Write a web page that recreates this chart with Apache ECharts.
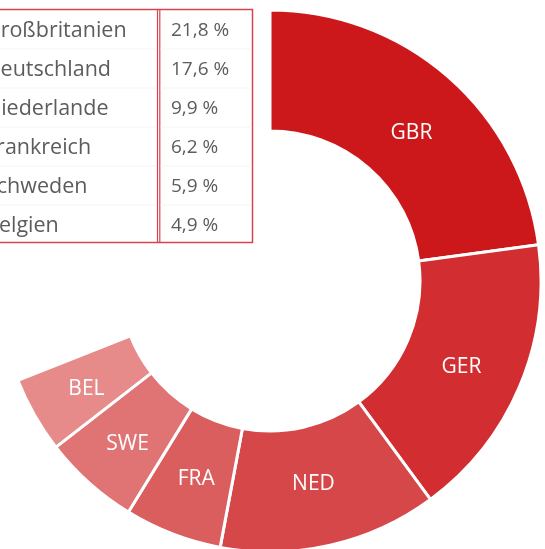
<!DOCTYPE html>
<html>
<head>
<meta charset="utf-8">
<script src="https://cdn.jsdelivr.net/npm/echarts@6/dist/echarts.min.js"></script>
<style>
  html, body { margin: 0; padding: 0; background: #fff; }
  #chart { width: 545px; height: 549px; }
</style>
</head>
<body>
<div id="chart"></div>
<script>
// country data
const countryNames = ['Großbritanien', 'Deutschland', 'Niederlande', 'Frankreich', 'Schweden', 'Belgien'];
const countryCodes = ['GBR', 'GER', 'NED', 'FRA', 'SWE', 'BEL'];
const shareLabels = ['21,8 %', '17,6 %', '9,9 %', '6,2 %', '5,9 %', '4,9 %'];
// ring segment sizes (degrees of the ring)
const segmentValues = [82.3, 61.4, 46.9, 20.9, 20.7, 16.3];
const segmentColors = ['#cd181b', '#d22d30', '#d6474a', '#db5e5f', '#e07474', '#e68a8a'];
// small nudges so labels sit where they do in the original
const labelNudges = [[1, 13], [-5, 3], [-4, -5], [3, -1], [0, 4], [2, 2]];

const chart = echarts.init(document.getElementById('chart'), null, { renderer: 'canvas' });

const fontFamily = '"Open Sans", "Noto Sans", sans-serif';
const borderColor = '#d9434f';
const textColor = '#5c5c5c';
const rowTop = 10, rowH = 39;

// table drawn as graphic elements
const tableEls = [];
tableEls.push({
  type: 'rect',
  shape: { x: -5, y: 9.5, width: 257.5, height: 233 },
  style: { fill: null, stroke: borderColor, lineWidth: 1.5 }
});
tableEls.push({ type: 'line', shape: { x1: 157.5, y1: 9.5, x2: 157.5, y2: 242.5 }, style: { stroke: borderColor, lineWidth: 1.2 } });
tableEls.push({ type: 'line', shape: { x1: 159.8, y1: 9.5, x2: 159.8, y2: 242.5 }, style: { stroke: borderColor, lineWidth: 1.2 } });
for (let i = 1; i < countryNames.length; i++) {
  const y = rowTop + rowH * i;
  tableEls.push({ type: 'line', shape: { x1: 0, y1: y, x2: 157, y2: y }, style: { stroke: '#faf2f2', lineWidth: 1 } });
  tableEls.push({ type: 'line', shape: { x1: 160.5, y1: y, x2: 251.5, y2: y }, style: { stroke: '#faf2f2', lineWidth: 1 } });
}
countryNames.forEach(function (name, i) {
  const cy = rowTop + rowH * i + rowH / 2 + 1;
  tableEls.push({
    type: 'text',
    x: -15, y: cy,
    style: { text: name, fill: textColor, font: '21.5px ' + fontFamily, verticalAlign: 'middle', align: 'left' }
  });
  tableEls.push({
    type: 'text',
    x: 171, y: cy,
    style: { text: shareLabels[i], fill: textColor, font: '19px ' + fontFamily, verticalAlign: 'middle', align: 'left' }
  });
});

const total = segmentValues.reduce((a, b) => a + b, 0);

let option = {
  animation: false,
  backgroundColor: '#fff',
  graphic: tableEls,
  series: [
    {
      type: 'pie',
      center: [270, 281],
      radius: [150, 271],
      startAngle: 90,
      endAngle: 90 - total,
      clockwise: true,
      avoidLabelOverlap: false,
      itemStyle: { borderColor: '#fff', borderWidth: 3 },
      label: {
        show: true,
        position: 'inside',
        color: '#fff',
        fontSize: 21,
        fontFamily: fontFamily,
        formatter: function (p) { return p.name; }
      },
      labelLine: { show: false },
      emphasis: { disabled: true },
      data: countryCodes.map(function (code, i) {
        return {
          name: code,
          value: segmentValues[i],
          itemStyle: { color: segmentColors[i] },
          label: { offset: labelNudges[i] }
        };
      })
    }
  ]
};

chart.setOption(option);
</script>
</body>
</html>
